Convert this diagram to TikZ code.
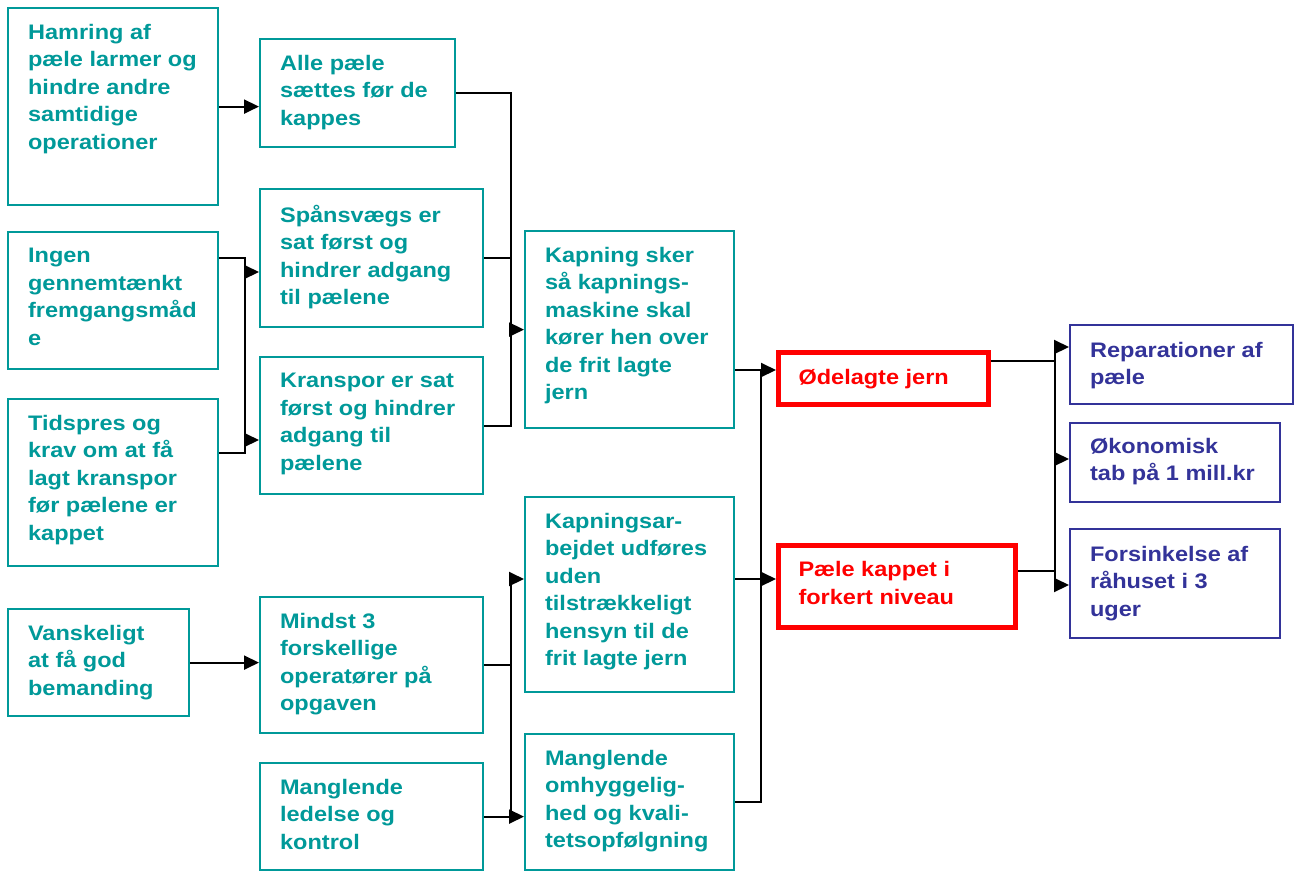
\documentclass[tikz,border=0pt]{standalone}
\usepackage{fontspec}
\setmainfont{Liberation Sans}[FakeStretch=1.12]
\usetikzlibrary{arrows.meta}
\definecolor{tealc}{HTML}{009999}
\definecolor{bluec}{HTML}{333399}
\definecolor{redc}{HTML}{FF0000}
% #1 style, #2 name, #3 x, #4 y, #5 w, #6 h, #7 top pad, #8 left pad, #9 text
\newcommand\bx[9]{\node[#1,anchor=north west,inner sep=0pt] (#2) at (#3,#4)
  {\parbox[t][#6pt][t]{#5pt}{\vspace*{#7pt}\raggedright\leftskip=#8pt\relax #9}};}
\begin{document}
\begin{tikzpicture}[x=1pt,y=-1pt,
  every node/.style={font=\bfseries\fontsize{21}{27.5}\selectfont},
  tbox/.style={draw=tealc,line width=2.2pt,text=tealc},
  rbox/.style={draw=redc,line width=5pt,text=redc},
  bbox/.style={draw=bluec,line width=2.2pt,text=bluec},
  conn/.style={draw=black,line width=2pt},
  arr/.style={conn,-{Triangle[length=15pt,width=14pt]}}]
\useasboundingbox[fill=white] (0,0) rectangle (1297,871);
% teal boxes
\bx{tbox}{b1}{7}{7}{210}{197}{16}{20}{Hamring af\\pæle larmer og\\hindre andre\\samtidige\\operationer}
\bx{tbox}{b2}{7}{231}{210}{137}{16}{20}{Ingen\\gennemtænkt\\fremgangsmåd\\e}
\bx{tbox}{b3}{7}{398}{210}{167}{16}{20}{Tidspres og\\krav om at få\\lagt kranspor\\før pælene er\\kappet}
\bx{tbox}{b4}{7}{608}{181}{107}{16}{20}{Vanskeligt\\at få god\\bemanding}
\bx{tbox}{b5}{259}{38}{195}{108}{16}{20}{Alle pæle\\sættes før de\\kappes}
\bx{tbox}{b6}{259}{188}{223}{138}{16}{20}{Spånsvægs er\\sat først og\\hindrer adgang\\til pælene}
\bx{tbox}{b7}{259}{356}{223}{137}{16}{20}{Kranspor er sat\\først og hindrer\\adgang til\\pælene}
\bx{tbox}{b8}{259}{596}{223}{136}{16}{20}{Mindst 3\\forskellige\\operatører på\\opgaven}
\bx{tbox}{b9}{259}{762}{223}{107}{16}{20}{Manglende\\ledelse og\\kontrol}
\bx{tbox}{b10}{524}{230}{209}{197}{16}{20}{Kapning sker\\så kapnings-\\maskine skal\\kører hen over\\de frit lagte\\jern}
\bx{tbox}{b11}{524}{496}{209}{195}{16}{20}{Kapningsar-\\bejdet udføres\\uden\\tilstrækkeligt\\hensyn til de\\frit lagte jern}
\bx{tbox}{b12}{524}{733}{209}{136}{16}{20}{Manglende\\omhyggelig-\\hed og kvali-\\tetsopfølgning}
% red boxes
\bx{rbox}{b13}{776}{350}{210}{52}{17}{20}{Ødelagte jern}
\bx{rbox}{b14}{776}{543}{237}{82}{16}{20}{Pæle kappet i\\forkert niveau}
% blue boxes
\bx{bbox}{b15}{1069}{324}{223}{79}{17}{20}{Reparationer af\\pæle}
\bx{bbox}{b16}{1069}{422}{210}{79}{15}{20}{Økonomisk\\tab på 1 mill.kr}
\bx{bbox}{b17}{1069}{528}{210}{109}{17}{20}{Forsinkelse af\\råhuset i 3\\uger}
% bus coordinates
\coordinate (jA1) at (245,258);
\coordinate (jA2) at (245,453);
\coordinate (aA1) at (245,272);
\coordinate (aA2) at (245,440);
\coordinate (xB) at (511,0);
\coordinate (cT) at (511,579);
\coordinate (dT) at (761,370);
\coordinate (dM) at (761,579);
\coordinate (eL1) at (1055,361);
\coordinate (eL2) at (1055,571);
\coordinate (eT) at (1055,347);
\coordinate (eM) at (1055,459);
\coordinate (eB) at (1055,585);
% connectors
\draw[arr] (b1.east) -- (b1.east -| b5.west);
\draw[conn] (b2.east |- jA1) -- (jA1) -- (jA2) -- (b3.east |- jA2);
\draw[arr] (aA1) -- (aA1 -| b6.west);
\draw[arr] (aA2) -- (aA2 -| b7.west);
\draw[conn] (b5.east) -- (b5.east -| xB) -- (b7.east -| xB) -- (b7.east);
\draw[conn] (b6.east) -- (b6.east -| xB);
\draw[arr] (b10.west -| xB) -- (b10.west);
\draw[arr] (b4.east) -- (b4.east -| b8.west);
\draw[conn] (b8.east) -- (b8.east -| cT);
\draw[conn] (cT) -- (cT |- b9.east);
\draw[arr] (cT) -- (cT -| b11.west);
\draw[arr] (b9.east) -- (b9.east -| b12.west);
\draw[conn] (dT -| b10.east) -- (dT);
\draw[arr] (dT) -- (dT -| b13.west);
\draw[conn] (dM -| b11.east) -- (dM);
\draw[arr] (dM) -- (dM -| b14.west);
\draw[conn] (dT) -- (dT |- b12.east) -- (b12.east);
\draw[conn] (eL1 -| b13.east) -- (eL1);
\draw[conn] (eL2 -| b14.east) -- (eL2);
\draw[conn] (eT) -- (eB);
\draw[arr] (eT) -- (eT -| b15.west);
\draw[arr] (eM) -- (eM -| b16.west);
\draw[arr] (eB) -- (eB -| b17.west);
\end{tikzpicture}
\end{document}
